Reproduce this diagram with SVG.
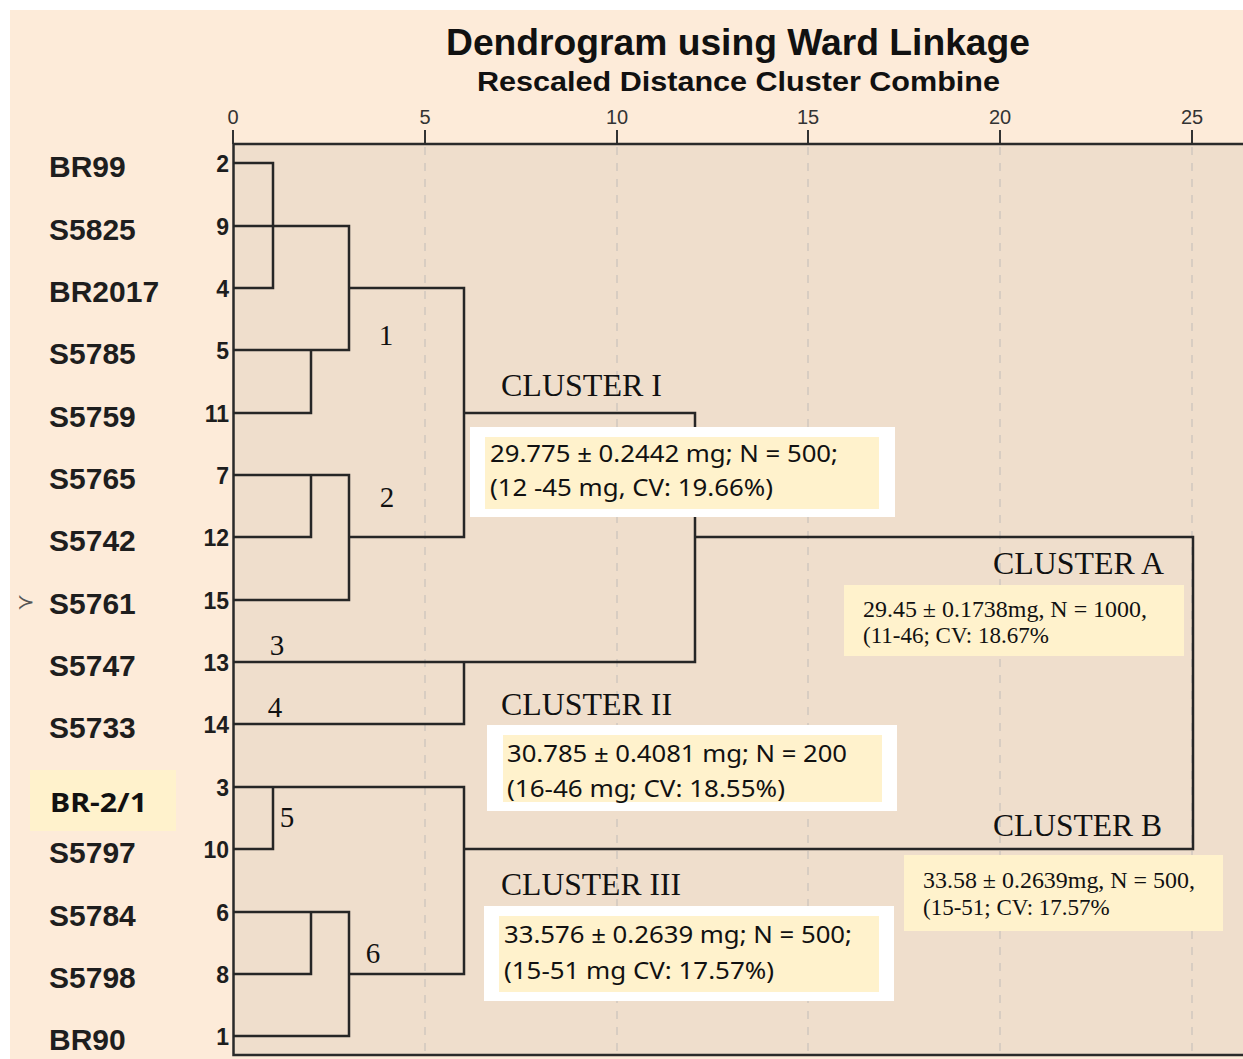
<svg xmlns="http://www.w3.org/2000/svg" width="1243" height="1059" viewBox="0 0 1243 1059">
<style>
.name{font-family:"Liberation Sans",Arial,sans-serif;font-weight:bold;font-size:30px;fill:#1e1e1e}
.num{font-family:"Liberation Sans",Arial,sans-serif;font-weight:bold;font-size:23px;fill:#1e1e1e;text-anchor:end}
.ax{font-family:"Liberation Sans",Arial,sans-serif;font-size:20px;fill:#333;text-anchor:middle}
.ser{font-family:"Liberation Serif","Times New Roman",serif;fill:#111}
.cal{font-family:"Noto Sans","Open Sans",sans-serif;font-size:23px;fill:#111}
.grid{stroke:#D8CDC2;stroke-width:2;stroke-dasharray:8 8;fill:none}
.den{stroke:#262626;stroke-width:2.5;fill:none;stroke-linejoin:miter}
.wbox{fill:#FFFFFF}
.ybox{fill:#FFF2CC}
</style>
<rect x="0" y="0" width="1243" height="1059" fill="#FFFFFF"/>
<rect x="10" y="10" width="1233" height="1049" fill="#FDEBD9"/>
<rect x="233" y="144" width="1015" height="911" fill="#EFDECC"/>

<g id="title">
<text x="738" y="55" text-anchor="middle" font-family="Liberation Sans,Arial,sans-serif" font-weight="bold" font-size="36" fill="#111" textLength="584" lengthAdjust="spacingAndGlyphs">Dendrogram using Ward Linkage</text>
<text x="738.5" y="91" text-anchor="middle" font-family="Liberation Sans,Arial,sans-serif" font-weight="bold" font-size="27" fill="#111" textLength="523" lengthAdjust="spacingAndGlyphs">Rescaled Distance Cluster Combine</text>
</g>

<g id="axis">
<text class="ax" x="233" y="124">0</text>
<text class="ax" x="425" y="124">5</text>
<text class="ax" x="617" y="124">10</text>
<text class="ax" x="808" y="124">15</text>
<text class="ax" x="1000" y="124">20</text>
<text class="ax" x="1192" y="124">25</text>
<g stroke="#333" stroke-width="2">
<line x1="233" y1="130" x2="233" y2="144"/>
<line x1="425" y1="130" x2="425" y2="144"/>
<line x1="617" y1="130" x2="617" y2="144"/>
<line x1="808" y1="130" x2="808" y2="144"/>
<line x1="1000" y1="130" x2="1000" y2="144"/>
<line x1="1192" y1="130" x2="1192" y2="144"/>
</g>
<g class="grid">
<line x1="425" y1="147" x2="425" y2="1053"/>
<line x1="617" y1="147" x2="617" y2="1053"/>
<line x1="808" y1="147" x2="808" y2="1053"/>
<line x1="1000" y1="147" x2="1000" y2="1053"/>
<line x1="1192" y1="147" x2="1192" y2="1053"/>
</g>
<path d="M233 144 H1243 M233.5 144 V1055 H1243" stroke="#2a2a2a" stroke-width="2.5" fill="none"/>
</g>

<g id="leaves">
<rect x="30" y="770" width="146" height="61" fill="#FFF2CC"/>
<text class="name" x="49" y="177">BR99</text>
<text class="name" x="49" y="240">S5825</text>
<text class="name" x="49" y="302">BR2017</text>
<text class="name" x="49" y="364">S5785</text>
<text class="name" x="49" y="427">S5759</text>
<text class="name" x="49" y="489">S5765</text>
<text class="name" x="49" y="551">S5742</text>
<text class="name" x="49" y="614">S5761</text>
<text class="name" x="49" y="676">S5747</text>
<text class="name" x="49" y="738">S5733</text>
<text x="50" y="812" font-family="Noto Sans,Open Sans,sans-serif" font-weight="bold" font-size="27" fill="#111" textLength="97" lengthAdjust="spacingAndGlyphs">BR-2/1</text>
<text class="name" x="49" y="863">S5797</text>
<text class="name" x="49" y="926">S5784</text>
<text class="name" x="49" y="988">S5798</text>
<text class="name" x="49" y="1050">BR90</text>
<text x="17" y="609" font-family="DejaVu Sans,sans-serif" font-size="21" fill="#555">≻</text>
<text class="num" x="229" y="172">2</text>
<text class="num" x="229" y="235">9</text>
<text class="num" x="229" y="297">4</text>
<text class="num" x="229" y="359">5</text>
<text class="num" x="229" y="422">11</text>
<text class="num" x="229" y="484">7</text>
<text class="num" x="229" y="546">12</text>
<text class="num" x="229" y="609">15</text>
<text class="num" x="229" y="671">13</text>
<text class="num" x="229" y="733">14</text>
<text class="num" x="229" y="796">3</text>
<text class="num" x="229" y="858">10</text>
<text class="num" x="229" y="921">6</text>
<text class="num" x="229" y="983">8</text>
<text class="num" x="229" y="1045">1</text>
</g>

<g id="connectors" class="den">
<path d="M233 163 H273 V288 H233"/>
<path d="M233 226 H349 V350 H233"/>
<path d="M311 350 V413 H233"/>
<path d="M349 288 H464 V537 H349"/>
<path d="M233 475 H349 V600 H233"/>
<path d="M311 475 V537 H233"/>
<path d="M464 413 H695 V662 H233"/>
<path d="M233 724 H464 V662"/>
<path d="M695 537 H1193 V849 H464"/>
<path d="M233 787 H464 V974 H349"/>
<path d="M273 787 V849 H233"/>
<path d="M233 912 H349 V1036 H233"/>
<path d="M311 912 V974 H233"/>
</g>

<g id="subcluster-labels" class="ser" font-size="29">
<text x="386" y="345" text-anchor="middle">1</text>
<text x="387" y="507" text-anchor="middle">2</text>
<text x="277" y="655" text-anchor="middle">3</text>
<text x="275" y="717" text-anchor="middle">4</text>
<text x="287" y="827" text-anchor="middle">5</text>
<text x="373" y="963" text-anchor="middle">6</text>
</g>

<g id="cluster-I">
<text class="ser" x="501" y="396" font-size="31" textLength="161" lengthAdjust="spacingAndGlyphs">CLUSTER I</text>
<rect class="wbox" x="470" y="427" width="425" height="90"/>
<rect class="ybox" x="485" y="437" width="394" height="72"/>
<text class="cal" x="490" y="462" textLength="348" lengthAdjust="spacingAndGlyphs">29.775 ± 0.2442 mg; N = 500;</text>
<text class="cal" x="490" y="496" textLength="283" lengthAdjust="spacingAndGlyphs">(12 -45 mg, CV: 19.66%)</text>
</g>

<g id="cluster-II">
<text class="ser" x="501" y="715" font-size="31" textLength="171" lengthAdjust="spacingAndGlyphs">CLUSTER II</text>
<rect class="wbox" x="487" y="725" width="410" height="86"/>
<rect class="ybox" x="503" y="735" width="379" height="67"/>
<text class="cal" x="507" y="762" textLength="340" lengthAdjust="spacingAndGlyphs">30.785 ± 0.4081 mg; N = 200</text>
<text class="cal" x="507" y="797" textLength="278" lengthAdjust="spacingAndGlyphs">(16-46 mg; CV: 18.55%)</text>
</g>

<g id="cluster-III">
<text class="ser" x="501" y="895" font-size="31" textLength="180" lengthAdjust="spacingAndGlyphs">CLUSTER III</text>
<rect class="wbox" x="484" y="906" width="410" height="95"/>
<rect class="ybox" x="499" y="916" width="380" height="76"/>
<text class="cal" x="504" y="943" textLength="348" lengthAdjust="spacingAndGlyphs">33.576 ± 0.2639 mg; N = 500;</text>
<text class="cal" x="504" y="979" textLength="270" lengthAdjust="spacingAndGlyphs">(15-51 mg CV: 17.57%)</text>
</g>

<g id="cluster-A">
<text class="ser" x="993" y="574" font-size="31" textLength="171" lengthAdjust="spacingAndGlyphs">CLUSTER A</text>
<rect class="ybox" x="844" y="585" width="340" height="71"/>
<text class="ser" x="863" y="617" font-size="23" textLength="284" lengthAdjust="spacingAndGlyphs">29.45 ± 0.1738mg, N = 1000,</text>
<text class="ser" x="863" y="643" font-size="23">(11-46; CV: 18.67%</text>
</g>

<g id="cluster-B">
<text class="ser" x="993" y="836" font-size="31" textLength="169" lengthAdjust="spacingAndGlyphs">CLUSTER B</text>
<rect class="ybox" x="904" y="855" width="319" height="76"/>
<text class="ser" x="923" y="888" font-size="23" textLength="272" lengthAdjust="spacingAndGlyphs">33.58 ± 0.2639mg, N = 500,</text>
<text class="ser" x="923" y="915" font-size="23">(15-51; CV: 17.57%</text>
</g>
</svg>
